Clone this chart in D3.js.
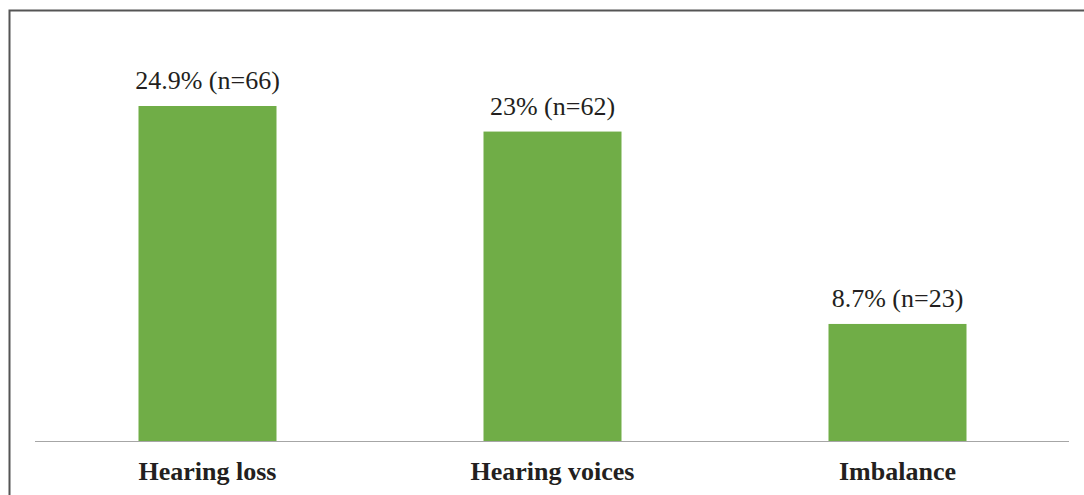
<!DOCTYPE html>
<html>
<head>
<meta charset="utf-8">
<script src="https://cdn.jsdelivr.net/npm/d3@7"></script>
<style>
  body { margin: 0; background: #fff; }
  svg { display: block; }
  text { font-family: 'Liberation Serif', 'Times New Roman', Times, 'DejaVu Serif', serif; }
</style>
</head>
<body>
<div id="chart"></div>
<script>
// data
const categories = ['Hearing loss', 'Hearing voices', 'Imbalance']
const percents = [24.9, 23, 8.7]
const counts = [66, 62, 23]
const pctLabels = ['24.9%', '23%', '8.7%']

const width = 1084
const height = 495
const margin = { left: 35, right: 14, baseline: 441 }

const svg = d3.select('#chart').append('svg')
  .attr('width', width)
  .attr('height', height)

// outer frame (only top and left edges are in view)
svg.append('path')
  .attr('d', `M9.5,${height} V10.5 H${width}`)
  .attr('fill', 'none')
  .attr('stroke', '#555')
  .attr('stroke-width', 2)

const x = d3.scaleBand()
  .domain(categories)
  .range([margin.left, width - margin.right])
  .paddingInner(0.6)
  .paddingOuter(0.3)

const y = d3.scaleLinear()
  .domain([0, 24.9])
  .range([margin.baseline, 106])

const rows = categories.map((c, i) => ({ c, v: percents[i], n: counts[i], lab: pctLabels[i] }))

svg.selectAll('rect.bar')
  .data(rows)
  .enter()
  .append('rect')
  .attr('class', 'bar')
  .attr('x', d => x(d.c))
  .attr('width', x.bandwidth())
  .attr('y', d => y(d.v))
  .attr('height', d => y(0) - y(d.v))
  .attr('fill', '#70ad47')

// baseline
svg.append('line')
  .attr('x1', margin.left)
  .attr('x2', width - margin.right - 1)
  .attr('y1', y(0) + 0.5)
  .attr('y2', y(0) + 0.5)
  .attr('stroke', '#a6a6a6')
  .attr('stroke-width', 1.2)

// value labels
svg.selectAll('text.val')
  .data(rows)
  .enter()
  .append('text')
  .attr('class', 'val')
  .attr('x', d => x(d.c) + x.bandwidth() / 2)
  .attr('y', d => y(d.v) - 17)
  .attr('text-anchor', 'middle')
  .style('font-size', '26px')
  .attr('fill', '#231f20')
  .text(d => `${d.lab} (n=${d.n})`)

// category labels
svg.selectAll('text.cat')
  .data(rows)
  .enter()
  .append('text')
  .attr('class', 'cat')
  .attr('x', d => x(d.c) + x.bandwidth() / 2)
  .attr('y', 480)
  .attr('text-anchor', 'middle')
  .style('font-size', '26px')
  .style('font-weight', 'bold')
  .attr('fill', '#231f20')
  .text(d => d.c)
</script>
</body>
</html>
